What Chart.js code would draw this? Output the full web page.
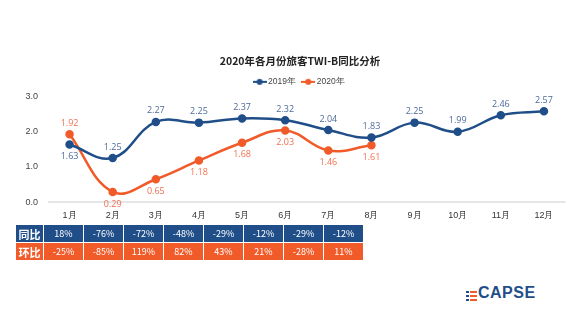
<!DOCTYPE html>
<html>
<head>
<meta charset="utf-8">
<script src="https://cdn.jsdelivr.net/npm/chart.js@4"></script>
<style>
  html, body { margin: 0; padding: 0; background: #fff; }
  body { width: 572px; height: 331px; position: relative; overflow: hidden; font-family: "Noto Sans CJK SC", "Noto Sans", sans-serif; }
  #wrap { position: absolute; left: 0; top: 0; width: 572px; height: 229px; }
  table.stats { position: absolute; left: 15px; top: 224px; border-collapse: collapse; font-size: 9px; color: #fff; }
  table.stats td { height: 17px; padding: 0; text-align: center; border: 1px solid #fff; width: 39px; }
  table.stats td.head { width: 27px; font-weight: bold; font-size: 11px; }
  tr.yoy td { background: #1f4e89; }
  tr.mom td { background: #f15a29; }
  .logo { position: absolute; left: 466px; top: 289px; height: 14px; }
  .logo .bar { position: absolute; height: 2px; }
  .logo .txt { position: absolute; left: 12px; top: -5px; font-family: "Liberation Sans", Arial, sans-serif; font-weight: bold; font-size: 16px; color: #1f4e89; letter-spacing: 0.5px; }
</style>
</head>
<body>
<div id="wrap"><canvas id="chart"></canvas></div>
<table class="stats" id="stats"></table>
<div class="logo">
  <div class="bar" style="left:0;top:2px;width:3px;background:#1f4e89"></div>
  <div class="bar" style="left:4px;top:2px;width:7px;background:#f15a29"></div>
  <div class="bar" style="left:0;top:6px;width:3px;background:#1f4e89"></div>
  <div class="bar" style="left:4px;top:6px;width:7px;background:#f15a29"></div>
  <div class="bar" style="left:0;top:10px;width:3px;background:#1f4e89"></div>
  <div class="bar" style="left:4px;top:10px;width:7px;background:#f15a29"></div>
  <div class="txt">CAPSE</div>
</div>
<script>
const months = ['1月', '2月', '3月', '4月', '5月', '6月', '7月', '8月', '9月', '10月', '11月', '12月'];
const values2019 = [1.63, 1.25, 2.27, 2.25, 2.37, 2.32, 2.04, 1.83, 2.25, 1.99, 2.46, 2.57];
const values2020 = [1.92, 0.29, 0.65, 1.18, 1.68, 2.03, 1.46, 1.61];
const yoyLabels = ['18%', '-76%', '-72%', '-48%', '-29%', '-12%', '-29%', '-12%'];
const momLabels = ['-25%', '-85%', '119%', '82%', '43%', '21%', '-28%', '11%'];
// label sits above the point (1) or below it (-1)
const pos2019 = [-1, 1, 1, 1, 1, 1, 1, 1, 1, 1, 1, 1];
const pos2020 = [1, -1, -1, -1, -1, -1, -1, -1];

const blue = '#1f4e89';
const orange = '#f15a29';

// table under the chart
function fillRow(cls, head, cells) {
  const tr = document.createElement('tr');
  tr.className = cls;
  tr.innerHTML = `<td class="head">${head}</td>` + cells.map((c) => `<td>${c}</td>`).join('');
  document.getElementById('stats').appendChild(tr);
}
fillRow('yoy', '同比', yoyLabels);
fillRow('mom', '环比', momLabels);

// line-dot-line marker for the legend
function legendMarker(color) {
  const c = document.createElement('canvas');
  c.width = 14;
  c.height = 8;
  const g = c.getContext('2d');
  g.strokeStyle = color;
  g.lineWidth = 2;
  g.beginPath();
  g.moveTo(0, 4);
  g.lineTo(14, 4);
  g.stroke();
  g.fillStyle = color;
  g.beginPath();
  g.arc(7, 4, 3, 0, Math.PI * 2);
  g.fill();
  return c;
}

const valueLabels = {
  id: 'valueLabels',
  afterDatasetsDraw(chart) {
    const ctx = chart.ctx;
    ctx.save();
    ctx.font = '9px "Open Sans", "Noto Sans", sans-serif';
    ctx.textAlign = 'center';
    ctx.textBaseline = 'middle';
    chart.data.datasets.forEach((ds, di) => {
      const meta = chart.getDatasetMeta(di);
      ctx.fillStyle = ds.labelColor;
      meta.data.forEach((pt, i) => {
        const up = ds.labelPos[i] > 0;
        ctx.fillText(ds.data[i].toFixed(2), pt.x, up ? pt.y - 11 : pt.y + 12);
      });
    });
    ctx.restore();
  },
};

// the original centres title + legend a bit right of the canvas middle
const shiftHeader = {
  id: 'shiftHeader',
  afterLayout(chart) {
    [chart.titleBlock, chart.legend].forEach((box) => {
      if (!box) return;
      box.left += 15;
      box.right += 15;
    });
  },
};

new Chart(document.getElementById('chart'), {
  type: 'line',
  data: {
    labels: months,
    datasets: [
      {
        label: '2019年',
        data: values2019,
        borderColor: blue,
        backgroundColor: blue,
        labelColor: '#4d6b99',
        labelPos: pos2019,
      },
      {
        label: '2020年',
        data: values2020,
        borderColor: orange,
        backgroundColor: orange,
        labelColor: '#f07050',
        labelPos: pos2020,
      },
    ],
  },
  options: {
    responsive: true,
    maintainAspectRatio: false,
    animation: false,
    borderWidth: 2.5,
    tension: 0.4,
    pointRadius: 3,
    layout: {
      padding: { left: 0, right: 2, top: 0, bottom: 0 },
    },
    scales: {
      x: {
        offset: true,
        border: { display: false },
        grid: { display: false, drawTicks: false },
        ticks: {
          color: '#333',
          font: { size: 9 },
          padding: 8,
        },
      },
      y: {
        min: 0,
        max: 3,
        border: { display: false },
        grid: {
          drawTicks: false,
          lineWidth: 2,
          color: (ctx) => (ctx.tick && ctx.tick.value === 0 ? '#e6e6e6' : 'rgba(0,0,0,0)'),
        },
        ticks: {
          stepSize: 1,
          color: '#444',
          font: { size: 9 },
          padding: 10,
          callback: (v) => v.toFixed(1),
        },
        afterFit: (scale) => {
          scale.width = 48;
        },
      },
    },
    plugins: {
      title: {
        display: true,
        text: '2020年各月份旅客TWI-B同比分析',
        color: '#222',
        font: { size: 10.5, weight: 'bold', family: '"Noto Sans CJK SC", sans-serif' },
        padding: { top: 55, bottom: 2 },
      },
      legend: {
        labels: {
          color: '#444',
          font: { size: 8.5 },
          boxWidth: 14,
          boxHeight: 8,
          padding: 8,
          usePointStyle: true,
          generateLabels: (chart) =>
            chart.data.datasets.map((ds, i) => ({
              text: ds.label,
              fontColor: '#444',
              pointStyle: legendMarker(ds.borderColor),
              datasetIndex: i,
              lineWidth: 0,
            })),
        },
      },
      tooltip: { enabled: false },
    },
  },
  plugins: [valueLabels, shiftHeader],
});
</script>
</body>
</html>
